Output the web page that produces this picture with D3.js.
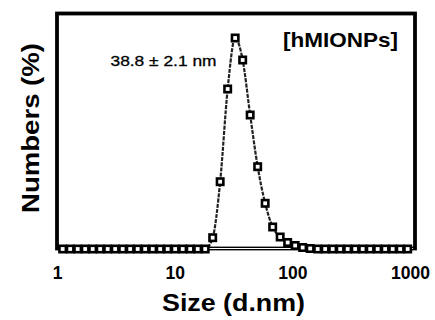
<!DOCTYPE html>
<html>
<head>
<meta charset="utf-8">
<script src="https://cdn.jsdelivr.net/npm/d3@7"></script>
<style>
    html, body { margin: 0; padding: 0; background: #fff; }
    svg { display: block; font-family: "Liberation Sans", Arial, sans-serif; }
</style>
</head>
<body>
<svg id="chart" width="435" height="320"></svg>
<script>
// DLS size classes (nm) shown between 1 and 1000
const sizes = [
    1.117, 1.294, 1.499, 1.736, 2.010, 2.328, 2.696, 3.122, 3.615, 4.187,
    4.849, 5.615, 6.503, 7.531, 8.721, 10.10, 11.70, 13.54, 15.69, 18.17,
    21.04, 24.36, 28.21, 32.67, 37.84, 43.82, 50.75, 58.77, 68.06, 78.82,
    91.28, 105.7, 122.4, 141.8, 164.2, 190.1, 220.2, 255.0, 295.3, 342.0,
    396.1, 458.7, 531.2, 615.1, 712.4, 825.0, 955.4
];
// number distribution (%)
const numbers = [
    0, 0, 0, 0, 0, 0, 0, 0, 0, 0,
    0, 0, 0, 0, 0, 0, 0, 0, 0, 0,
    1.13, 6.73, 16.0, 21.1, 18.9, 13.4, 8.23, 4.57, 2.2, 1.2,
    0.65, 0.35, 0.15, 0.05, 0, 0, 0, 0, 0, 0,
    0, 0, 0, 0, 0, 0, 0
];
const xTicks = [1, 10, 100, 1000];
const yMax = 23.55;

const svg = d3.select('#chart');
const frame = {left: 57, right: 415, top: 13.5, bottom: 248.5};

const x = d3.scaleLog().domain([1, 1000]).range([57, 410]);
const y = d3.scaleLinear().domain([0, yMax]).range([249, 13.5]);

const points = sizes.map((s, i) => [s, numbers[i]]);

// frame
svg.append('rect')
    .attr('x', frame.left)
    .attr('y', frame.top)
    .attr('width', frame.right - frame.left)
    .attr('height', frame.bottom - frame.top)
    .attr('fill', 'none')
    .attr('stroke', '#000')
    .attr('stroke-width', 3.8);
svg.append('line')
    .attr('x1', frame.left + 2).attr('x2', frame.right - 2)
    .attr('y1', frame.bottom).attr('y2', frame.bottom)
    .attr('stroke', '#fff')
    .attr('stroke-width', 1);

// x ticks labels
const xAxis = d3.axisBottom(x)
    .tickValues(xTicks)
    .tickFormat(d3.format('d'))
    .tickSize(0)
    .tickPadding(0);
const gx = svg.append('g')
    .attr('transform', 'translate(0, 265)')
    .call(xAxis);
gx.select('.domain').remove();
gx.selectAll('text')
    .attr('dy', null)
    .attr('y', 14)
    .attr('fill', '#000')
    .style('font-size', '17.5px')
    .style('font-weight', 'bold')
    .style('font-family', '"Liberation Sans", Arial, sans-serif');

// curve
const line = d3.line()
    .x(d => x(d[0]))
    .y(d => y(d[1]))
    .curve(d3.curveMonotoneX);

svg.append('path')
    .attr('d', line(points))
    .attr('fill', 'none')
    .attr('stroke', '#222')
    .attr('stroke-width', 2.2)
    .attr('stroke-dasharray', '4,1.2');

// markers
svg.append('g')
    .selectAll('rect')
    .data(points)
    .join('rect')
    .attr('x', d => x(d[0]) - 3.2)
    .attr('y', d => y(d[1]) - 3.2)
    .attr('width', 6.4)
    .attr('height', 6.4)
    .attr('fill', '#fff')
    .attr('stroke', '#000')
    .attr('stroke-width', 2.6);

// texts
svg.append('text')
    .attr('x', 283).attr('y', 46.5)
    .attr('textLength', 115).attr('lengthAdjust', 'spacingAndGlyphs')
    .style('font-size', '21px').style('font-weight', 'bold')
    .text('[hMIONPs]');

svg.append('text')
    .attr('x', 110.5).attr('y', 65.5)
    .attr('textLength', 106).attr('lengthAdjust', 'spacingAndGlyphs')
    .style('font-size', '15px')
    .style('stroke', '#000').style('stroke-width', 0.3)
    .text('38.8 ± 2.1 nm');

svg.append('text')
    .attr('x', 162).attr('y', 310.5)
    .attr('textLength', 143).attr('lengthAdjust', 'spacingAndGlyphs')
    .style('font-size', '24px').style('font-weight', 'bold')
    .text('Size (d.nm)');

svg.append('text')
    .attr('transform', 'translate(38.5, 213) rotate(-90)')
    .attr('textLength', 170).attr('lengthAdjust', 'spacingAndGlyphs')
    .style('font-size', '24px').style('font-weight', 'bold')
    .text('Numbers (%)');
</script>
</body>
</html>
